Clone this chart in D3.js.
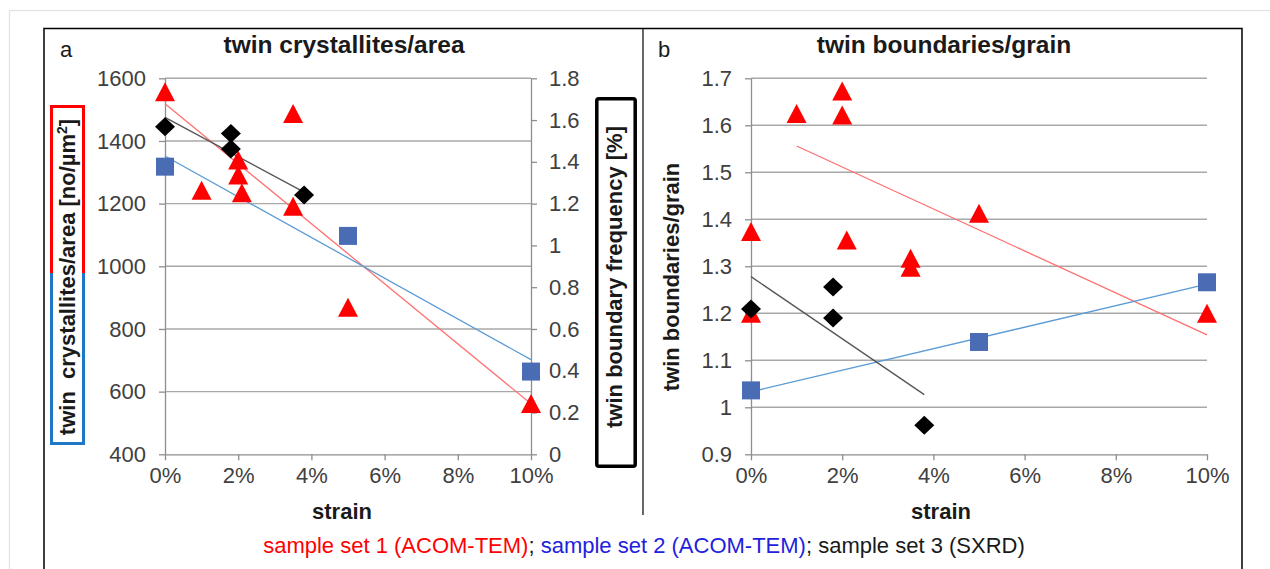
<!DOCTYPE html>
<html>
<head>
<meta charset="utf-8">
<script src="https://cdn.jsdelivr.net/npm/d3@7"></script>
<style>
  html, body { margin: 0; padding: 0; background: #ffffff; }
  svg { display: block; font-family: "Liberation Sans", Arial, sans-serif; }
</style>
</head>
<body>
<div id="chart"></div>
<script>
const strainTicks = [0, 2, 4, 6, 8, 10];
const crystTicks = [400, 600, 800, 1000, 1200, 1400, 1600];
const freqTicks = [0, 0.2, 0.4, 0.6, 0.8, 1, 1.2, 1.4, 1.6, 1.8];
const grainTicks = [0.9, 1, 1.1, 1.2, 1.3, 1.4, 1.5, 1.6, 1.7];

// panel a: twin crystallites/area (sets 1, 2) and twin boundary frequency (set 3, right axis)
const set1CrystStrain = [0, 1, 2, 2, 2.1, 3.5, 3.5, 5, 10];
const set1Cryst = [1557, 1243, 1339, 1291, 1235, 1488, 1192, 869, 562];
const set2CrystStrain = [0, 5, 10];
const set2Cryst = [1318, 1097, 664];
const set3FreqStrain = [0, 1.8, 1.8, 3.8];
const set3Freq = [1.568, 1.536, 1.461, 1.241];

const set1CrystTrend = [[0, 1519], [10, 561]];
const set2CrystTrend = [[0, 1352], [10, 702]];
const set3FreqTrend = [[0, 1.613], [3.8, 1.255]];

// panel b: twin boundaries/grain
const set1GrainStrain = [0, 0, 1, 2, 2, 2.1, 3.5, 3.5, 5, 10];
const set1Grain = [1.374, 1.2, 1.625, 1.673, 1.622, 1.356, 1.317, 1.298, 1.413, 1.2];
const set2GrainStrain = [0, 5, 10];
const set2Grain = [1.036, 1.139, 1.266];
const set3GrainStrain = [0, 1.8, 1.8, 3.8];
const set3Grain = [1.209, 1.256, 1.19, 0.962];

const set1GrainTrend = [[1, 1.556], [10, 1.154]];
const set2GrainTrend = [[0, 1.033], [10, 1.262]];
const set3GrainTrend = [[0, 1.278], [3.8, 1.027]];

const width = 1270;
const height = 569;
const red = "#ff0000";
const blue = "#4a6cb5";
const axisGray = "#8e8e8e";
const gridGray = "#a8a8a8";
const tickText = "#404040";

const svg = d3.select("#chart").append("svg")
  .attr("width", width)
  .attr("height", height);

// frames
svg.append("rect")
  .attr("x", 9.5).attr("y", 10.5)
  .attr("width", 1300).attr("height", 600)
  .attr("fill", "none").attr("stroke", "#e2e2e2").attr("stroke-width", 1.2);

svg.append("rect")
  .attr("x", 44).attr("y", 28.5)
  .attr("width", 1198).attr("height", 600)
  .attr("fill", "none").attr("stroke", "#000").attr("stroke-width", 1.5);

svg.append("line")
  .attr("x1", 643).attr("x2", 643).attr("y1", 28).attr("y2", 515)
  .attr("stroke", "#000").attr("stroke-width", 1.2);

const triangle = "M0,-9.5L10,9.5L-10,9.5Z";
const square = d3.symbol().type(d3.symbolSquare).size(18 * 18)();
const diamond = "M0,-9.5L10,0L0,9.5L-10,0Z";

function zip(xs, ys) {
  return xs.map((x, i) => ({ x, y: ys[i] }));
}

function drawAxisStyle(g) {
  g.select(".domain").attr("stroke", axisGray).attr("stroke-width", 1.3);
  g.selectAll(".tick line").attr("stroke", axisGray).attr("stroke-width", 1.3);
  g.selectAll(".tick text")
    .attr("fill", tickText)
    .attr("font-size", 22)
    .attr("font-family", "'Liberation Sans', Arial, sans-serif");
}

function drawPanel(cfg) {
  const x = d3.scaleLinear().domain([0, 10]).range([cfg.left, cfg.right]);
  const y = d3.scaleLinear().domain(cfg.yDomain).range([454.3, 78.3]);
  const g = svg.append("g");

  // gridlines
  g.append("g")
    .selectAll("line")
    .data(cfg.yTicks.slice(1))
    .join("line")
    .attr("x1", cfg.left).attr("x2", cfg.right)
    .attr("y1", d => y(d)).attr("y2", d => y(d))
    .attr("stroke", gridGray).attr("stroke-width", 1.4);

  g.append("g")
    .attr("transform", `translate(${cfg.left},0)`)
    .call(d3.axisLeft(y).tickValues(cfg.yTicks).tickSize(6).tickSizeOuter(0).tickPadding(13)
      .tickFormat(d3.format("~g")))
    .call(drawAxisStyle);

  g.append("g")
    .attr("transform", `translate(0,${y(cfg.yDomain[0])})`)
    .call(d3.axisBottom(x).tickValues(strainTicks).tickSize(6).tickSizeOuter(0).tickPadding(7)
      .tickFormat(d => d + "%"))
    .call(drawAxisStyle);

  let y2 = null;
  if (cfg.y2Domain) {
    y2 = d3.scaleLinear().domain(cfg.y2Domain).range([454.3, 78.3]);
    g.append("g")
      .attr("transform", `translate(${cfg.right},0)`)
      .call(d3.axisRight(y2).tickValues(cfg.y2Ticks).tickSize(6).tickSizeOuter(0).tickPadding(12)
        .tickFormat(d3.format("~g")))
      .call(drawAxisStyle);
  }

  const line = scaleY => d3.line().x(d => x(d[0])).y(d => scaleY(d[1]));

  cfg.series.forEach(s => {
    const sy = s.axis === 2 ? y2 : y;
    g.append("path")
      .datum(s.trend)
      .attr("d", line(sy))
      .attr("fill", "none")
      .attr("stroke", s.trendColor)
      .attr("stroke-width", 1.3);
  });

  cfg.series.forEach(s => {
    const sy = s.axis === 2 ? y2 : y;
    g.append("g")
      .selectAll("path")
      .data(s.points)
      .join("path")
      .attr("transform", d => `translate(${x(d.x)},${sy(d.y)})`)
      .attr("d", s.shape)
      .attr("fill", s.color);
  });

  svg.append("text")
    .attr("x", cfg.letterX).attr("y", 57)
    .attr("font-size", 22).attr("fill", "#1a1a1a")
    .text(cfg.letter);

  svg.append("text")
    .attr("x", cfg.titleX).attr("y", 53)
    .attr("text-anchor", "middle")
    .attr("font-size", 24.5).attr("font-weight", 700).attr("fill", "#1a1a1a")
    .text(cfg.title);

  svg.append("text")
    .attr("x", cfg.strainX).attr("y", 519)
    .attr("text-anchor", "middle")
    .attr("font-size", 22).attr("font-weight", 700).attr("fill", "#1a1a1a")
    .text("strain");
}

drawPanel({
  left: 165, right: 531,
  yDomain: [400, 1600], yTicks: crystTicks,
  y2Domain: [0, 1.8], y2Ticks: freqTicks,
  letter: "a", letterX: 60,
  title: "twin crystallites/area", titleX: 344,
  strainX: 342,
  series: [
    { points: zip(set1CrystStrain, set1Cryst), trend: set1CrystTrend, shape: triangle, color: red, trendColor: "#ff7070" },
    { points: zip(set2CrystStrain, set2Cryst), trend: set2CrystTrend, shape: square, color: blue, trendColor: "#5b9bd5" },
    { points: zip(set3FreqStrain, set3Freq), trend: set3FreqTrend, shape: diamond, color: "#000", trendColor: "#555555", axis: 2 }
  ]
});

drawPanel({
  left: 751, right: 1207,
  yDomain: [0.9, 1.7], yTicks: grainTicks,
  letter: "b", letterX: 658,
  title: "twin boundaries/grain", titleX: 944,
  strainX: 941,
  series: [
    { points: zip(set1GrainStrain, set1Grain), trend: set1GrainTrend, shape: triangle, color: red, trendColor: "#ff7070" },
    { points: zip(set2GrainStrain, set2Grain), trend: set2GrainTrend, shape: square, color: blue, trendColor: "#5b9bd5" },
    { points: zip(set3GrainStrain, set3Grain), trend: set3GrainTrend, shape: diamond, color: "#000", trendColor: "#555555" }
  ]
});

// left axis title in a red / blue box
const boxL = { x: 51.5, y: 106.5, w: 32, h: 337, split: 273 };
svg.append("path")
  .attr("d", `M${boxL.x},${boxL.split}V${boxL.y}H${boxL.x + boxL.w}V${boxL.split}`)
  .attr("fill", "none").attr("stroke", "#ff0000").attr("stroke-width", 3);
svg.append("path")
  .attr("d", `M${boxL.x},${boxL.split}V${boxL.y + boxL.h}H${boxL.x + boxL.w}V${boxL.split}`)
  .attr("fill", "none").attr("stroke", "#1f77c8").attr("stroke-width", 3);

const leftTitle = svg.append("text")
  .attr("transform", "translate(75,277) rotate(-90)")
  .attr("text-anchor", "middle")
  .attr("font-size", 22).attr("font-weight", 700).attr("fill", "#1a1a1a")
  .attr("xml:space", "preserve");
leftTitle.append("tspan").text("twin  crystallites/area [no/µm");
leftTitle.append("tspan").attr("font-size", 14).attr("dy", -8).text("2");
leftTitle.append("tspan").attr("dy", 8).text("]");

// right axis title in a black box
svg.append("rect")
  .attr("x", 596.8).attr("y", 98.8)
  .attr("width", 38.4).attr("height", 367.4)
  .attr("rx", 2)
  .attr("fill", "none").attr("stroke", "#000").attr("stroke-width", 3.5);

svg.append("text")
  .attr("transform", "translate(622,277) rotate(-90)")
  .attr("text-anchor", "middle")
  .attr("font-size", 22).attr("font-weight", 700).attr("fill", "#1a1a1a")
  .text("twin boundary frequency [%]");

svg.append("text")
  .attr("transform", "translate(679,277) rotate(-90)")
  .attr("text-anchor", "middle")
  .attr("font-size", 22).attr("font-weight", 700).attr("fill", "#1a1a1a")
  .text("twin boundaries/grain");

// legend line
const legend = svg.append("text")
  .attr("x", 644).attr("y", 553)
  .attr("text-anchor", "middle")
  .attr("font-size", 22)
  .attr("xml:space", "preserve");
legend.append("tspan").attr("fill", "#ff0000").text("sample set 1 (ACOM-TEM)");
legend.append("tspan").attr("fill", "#1a1a1a").text("; ");
legend.append("tspan").attr("fill", "#2222dd").text("sample set 2 (ACOM-TEM)");
legend.append("tspan").attr("fill", "#1a1a1a").text("; sample set 3 (SXRD)");
</script>
</body>
</html>
